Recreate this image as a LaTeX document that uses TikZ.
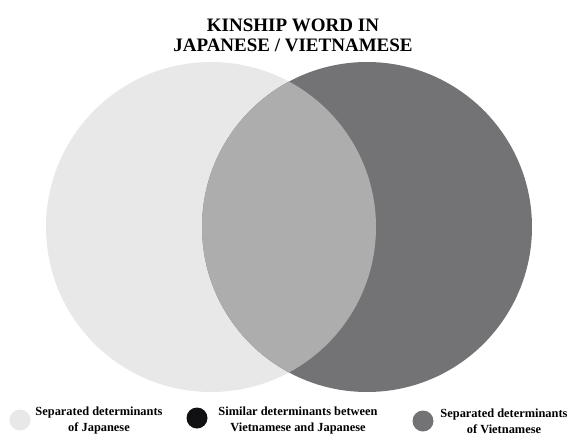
\documentclass[tikz,border=0pt]{standalone}
\usepackage{fontspec}
\setmainfont{Liberation Serif}
\definecolor{jpfill}{HTML}{E8E8E8}
\definecolor{vnfill}{HTML}{737375}
\definecolor{bothfill}{HTML}{ADADAD}
\definecolor{simdot}{HTML}{111114}
\begin{document}
\begin{tikzpicture}[x=1pt,y=-1pt,
  titletext/.style={font=\bfseries\fontsize{19}{20}\selectfont, align=center},
  legendtext/.style={font=\bfseries\fontsize{12.4}{16}\selectfont, align=center},
  legenddot/.style={circle, minimum size=21pt, inner sep=0pt}]
\useasboundingbox (0,0) rectangle (571,437);
% Venn diagram
\coordinate (jp) at (211,227);
\coordinate (vn) at (367,227);
\fill[jpfill] (jp) circle[radius=165pt];
\fill[vnfill] (vn) circle[radius=165pt];
\begin{scope}
  \clip (jp) circle[radius=165pt];
  \fill[bothfill] (vn) circle[radius=165pt];
\end{scope}
% title
\node[titletext] (title) at (293,35) {KINSHIP WORD IN\\JAPANESE / VIETNAMESE};
% legend
\node[legenddot, fill=jpfill] (dotjp) at (20,420) {};
\node[legendtext] (labjp) at (99,421) {Separated determinants\\of Japanese};
\node[legenddot, fill=simdot] (dotsim) at (197,418) {};
\node[legendtext] (labsim) at (298,421) {Similar determinants between\\Vietnamese and Japanese};
\node[legenddot, fill=vnfill] (dotvn) at (423,421) {};
\node[legendtext] (labvn) at (504,421) {Separated determinants\\of Vietnamese};
\end{tikzpicture}
\end{document}
